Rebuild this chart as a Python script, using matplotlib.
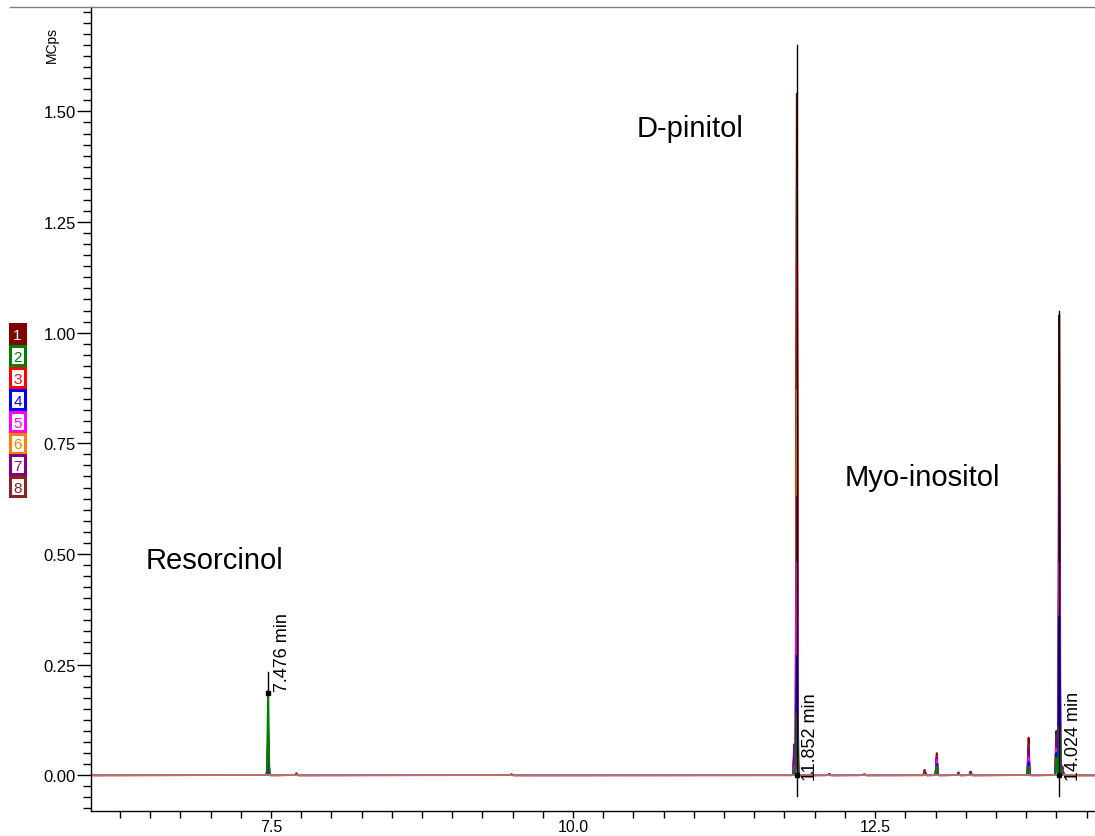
import numpy as np
import matplotlib
matplotlib.use("Agg")
import matplotlib.pyplot as plt
from matplotlib.lines import Line2D
from matplotlib.patches import Rectangle
from matplotlib.ticker import MultipleLocator, FormatStrFormatter

plt.rcParams['font.family'] = ['Liberation Sans', 'DejaVu Sans']

# Retention times of the detected peaks (min)
peak_rt = [7.476, 7.71, 9.49, 11.83, 11.852, 11.98, 12.12, 12.41,
           12.91, 13.01, 13.19, 13.29, 13.77, 14.00, 14.024, 14.05]

# Peak heights (MCps) for each injection, same order as peak_rt
heights_1 = [0.10, 0.004, 0.002, 0.05, 1.54, 0.006, 0.003, 0.002, 0.012, 0.050, 0.006, 0.008, 0.085, 0.10, 1.040, 0.020]
heights_2 = [0.19, 0.002, 0.001, 0.01, 0.14, 0.003, 0.001, 0.001, 0.005, 0.020, 0.003, 0.004, 0.020, 0.04, 0.110, 0.010]
heights_3 = [0.07, 0.003, 0.001, 0.02, 1.16, 0.005, 0.002, 0.001, 0.010, 0.030, 0.004, 0.006, 0.050, 0.06, 0.240, 0.015]
heights_4 = [0.04, 0.002, 0.001, 0.01, 0.27, 0.004, 0.002, 0.001, 0.006, 0.025, 0.003, 0.005, 0.030, 0.05, 0.360, 0.010]
heights_5 = [0.06, 0.002, 0.001, 0.02, 0.48, 0.004, 0.002, 0.001, 0.008, 0.035, 0.004, 0.006, 0.040, 0.06, 0.480, 0.012]
heights_6 = [0.05, 0.003, 0.001, 0.02, 0.87, 0.004, 0.002, 0.001, 0.008, 0.030, 0.004, 0.006, 0.045, 0.07, 0.420, 0.012]
heights_7 = [0.07, 0.003, 0.001, 0.07, 0.63, 0.005, 0.002, 0.001, 0.010, 0.040, 0.005, 0.007, 0.060, 0.08, 0.675, 0.015]
heights_8 = [0.09, 0.004, 0.002, 0.04, 1.33, 0.005, 0.003, 0.002, 0.011, 0.045, 0.006, 0.008, 0.070, 0.09, 0.560, 0.018]

trace_labels = ['1', '2', '3', '4', '5', '6', '7', '8']
trace_colors = ['#800000', '#008000', '#FF0000', '#0000FF',
                '#FF00FF', '#FF8000', '#800080', '#8B2323']
all_heights = [heights_1, heights_2, heights_3, heights_4,
               heights_5, heights_6, heights_7, heights_8]

# Labelled peaks: retention time and extent of the marker line (MCps)
marked_rt = [7.476, 11.852, 14.024]
marked_top = [0.233, 1.65, 1.05]
marked_bottom = [0.185, -0.047, -0.047]
marked_dot = [0.185, 0.0, 0.0]
marked_text_y = [0.19, -0.012, -0.012]

compound_names = ['Resorcinol', 'D-pinitol', 'Myo-inositol']
compound_pos = [(6.46, 0.486), (10.53, 1.462), (12.25, 0.674)]

W, H = 1095, 837
fig = plt.figure(figsize=(W / 100, H / 100), dpi=100)
ax = fig.add_axes([91 / W, (H - 812) / H, 1 - 91 / W, (812 - 8) / H])

t = np.arange(6.0, 14.33, 0.0008)
sigma = 0.0045
# tallest traces first so the smaller ones stay visible on top
draw_order = [0, 7, 2, 5, 6, 4, 3, 1]
for i in draw_order:
    y = np.zeros_like(t)
    for rt, h in zip(peak_rt, all_heights[i]):
        y += h * np.exp(-0.5 * ((t - rt) / sigma) ** 2)
    ax.plot(t, y, color=trace_colors[i], lw=1.3)

# Baseline in the blended tone of the overlapping traces
ax.axhline(0, color='#BC6F6F', lw=1.4, zorder=2.5)

for rt, top, bot, dot, ty in zip(marked_rt, marked_top, marked_bottom,
                                 marked_dot, marked_text_y):
    ax.plot([rt, rt], [bot, top], color='black', lw=1.0, zorder=5)
    ax.plot([rt], [dot], marker='s', ms=3.5, color='black', zorder=6)
    ax.text(rt + 0.045, ty, f'{rt:.3f} min', rotation=90, ha='left',
            va='bottom', fontsize=13, zorder=7)

for name, (x, y) in zip(compound_names, compound_pos):
    ax.text(x, y, name, fontsize=21, ha='left', va='center')

ax.set_xlim(6.01, 14.32)
ax.set_ylim(-0.081, 1.736)

ax.xaxis.set_major_locator(MultipleLocator(2.5))
ax.xaxis.set_minor_locator(MultipleLocator(0.25))
ax.xaxis.set_major_formatter(FormatStrFormatter('%.1f'))
ax.yaxis.set_major_locator(MultipleLocator(0.25))
ax.yaxis.set_minor_locator(MultipleLocator(0.025))
ax.yaxis.set_major_formatter(FormatStrFormatter('%.2f'))

ax.tick_params(axis='both', which='major', width=1, color='black')
ax.tick_params(axis='x', which='major', length=5, pad=0.5, labelsize=11.5)
ax.tick_params(axis='x', which='minor', length=5, width=1)
ax.tick_params(axis='y', which='major', length=10, pad=1, labelsize=12)
ax.tick_params(axis='y', which='minor', length=6, width=1)

for s in ['top', 'right']:
    ax.spines[s].set_visible(False)
for s in ['left', 'bottom']:
    ax.spines[s].set_linewidth(1.0)

# Frame line across the top of the panel
fig.add_artist(Line2D([10 / W, 1.0], [(H - 8) / H, (H - 8) / H],
                      color='#808080', lw=1.0, transform=fig.transFigure))

fig.text(52 / W, (H - 45) / H, 'MCps', rotation=90, fontsize=10,
         ha='center', va='center')

# Trace key on the left margin
box_w, box_h, step = 15, 19, 21.9
for k, (lab, col) in enumerate(zip(trace_labels, trace_colors)):
    top = 325 + k * step
    fc, tc = (col, 'white') if k == 0 else ('white', col)
    fig.add_artist(Rectangle((10 / W, (H - top - box_h) / H), box_w / W, box_h / H,
                             transform=fig.transFigure, fc=fc, ec=col, lw=2.2))
    fig.text((10 + box_w / 2) / W, (H - top - box_h / 2) / H, lab, fontsize=11,
             color=tc, ha='center', va='center_baseline')

fig.savefig('out.png', dpi=100)
